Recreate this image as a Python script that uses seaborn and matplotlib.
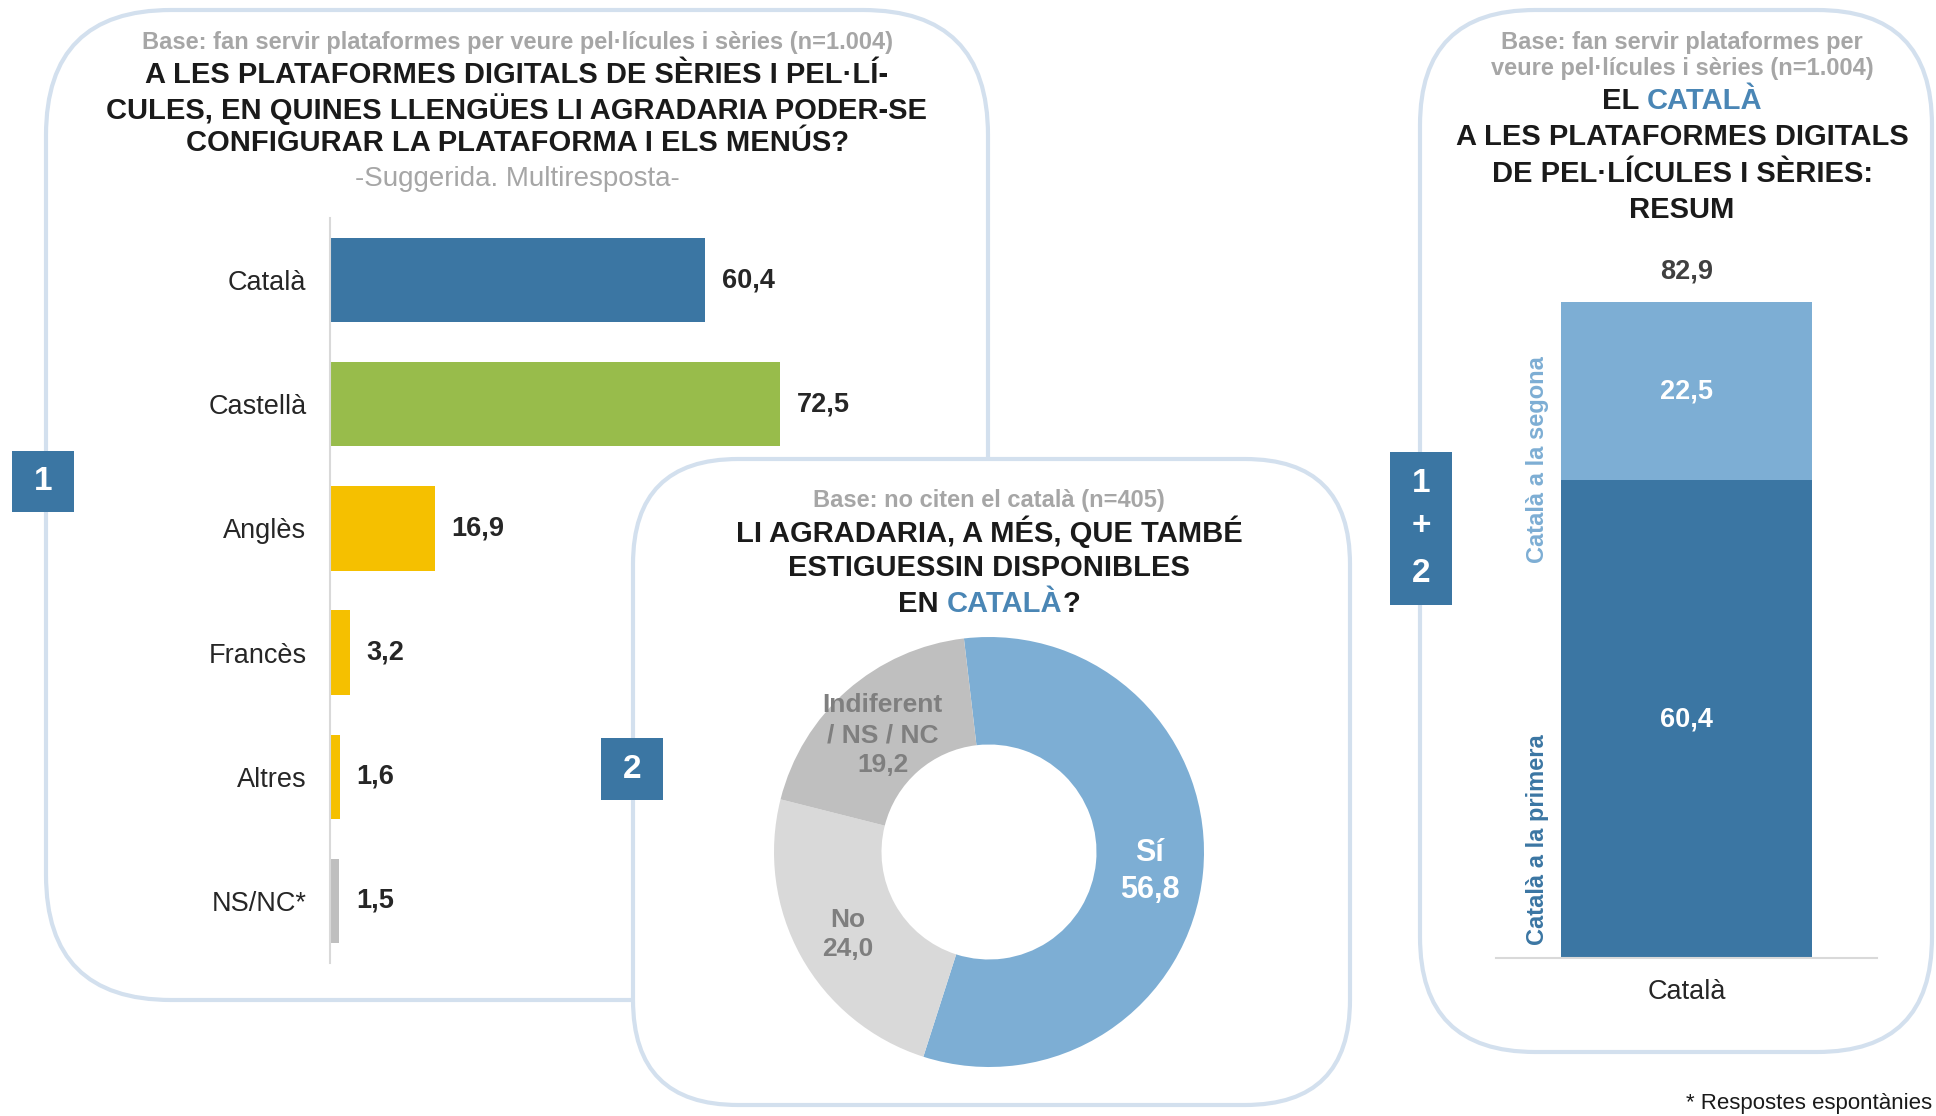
import matplotlib
matplotlib.use("Agg")
import matplotlib.pyplot as plt
import seaborn as sns
from matplotlib.patches import FancyBboxPatch, Rectangle
import numpy as np

# --- dades ---
llengues = ["Català", "Castellà", "Anglès", "Francès", "Altres", "NS/NC*"]
percentatges = [60.4, 72.5, 16.9, 3.2, 1.6, 1.5]
colors_llengues = ["#3B76A3", "#98BC4B", "#F5C000", "#F5C000", "#F5C000", "#BFBFBF"]

respostes = ["Sí", "No", "Indiferent\n/ NS / NC"]
respostes_pct = [56.8, 24.0, 19.2]
colors_respostes = ["#7DAED4", "#D9D9D9", "#BFBFBF"]
colors_etiq_resp = ["white", "#7F7F7F", "#7F7F7F"]

resum_cat = ["Català"]
primera = [60.4]
segona = [22.5]
total = [82.9]

base_1 = "Base: fan servir plataformes per veure pel·lícules i sèries (n=1.004)"
titol_1 = ["A LES PLATAFORMES DIGITALS DE SÈRIES I PEL·LÍ-",
           "CULES, EN QUINES LLENGÜES LI AGRADARIA PODER-SE",
           "CONFIGURAR LA PLATAFORMA I ELS MENÚS?"]
sub_1 = "-Suggerida. Multiresposta-"
base_2 = "Base: no citen el català (n=405)"
titol_2 = ["LI AGRADARIA, A MÉS, QUE TAMBÉ", "ESTIGUESSIN DISPONIBLES"]
base_3 = ["Base: fan servir plataformes per", "veure pel·lícules i sèries (n=1.004)"]
titol_3 = ["A LES PLATAFORMES DIGITALS", "DE PEL·LÍCULES I SÈRIES:", "RESUM"]
nota = "* Respostes espontànies"

DARK = "#3B76A3"
LIGHT = "#7DAED4"
CAT_BLUE = "#4A86B5"
GRAY = "#A6A6A6"
TXT = "#1A1A1A"
EDGE = "#D3E0EE"

sns.set_theme(style="white")
plt.rcParams['font.family'] = ['Liberation Sans', 'DejaVu Sans']

W, H = 1936, 1116
fig = plt.figure(figsize=(W / 100, H / 100), dpi=100)
fig.patch.set_facecolor("white")

bg = fig.add_axes([0, 0, 1, 1])
bg.set_xlim(0, W)
bg.set_ylim(H, 0)
bg.axis("off")


def px_axes(x0, y0, x1, y1):
    a = fig.add_axes([x0 / W, 1 - y1 / H, (x1 - x0) / W, (y1 - y0) / H])
    a.patch.set_alpha(0)
    return a


def caixa(x0, y0, x1, y1, r, z):
    p = FancyBboxPatch((x0, y0), x1 - x0, y1 - y0,
                       boxstyle=f"round,pad=0,rounding_size={r}",
                       facecolor="white", edgecolor=EDGE, linewidth=3, zorder=z)
    bg.add_patch(p)


def badge(x0, y0, x1, y1):
    bg.add_patch(Rectangle((x0, y0), x1 - x0, y1 - y0, facecolor=DARK,
                           edgecolor="none", zorder=10))


def linia_mixta(x, y, parts, size):
    full = "".join(p for p, _ in parts)
    ref = bg.text(x, y, full, ha="center", va="center", fontsize=size,
                  fontweight="bold", alpha=0, zorder=3)
    prev, xy = ref, (0, 0)
    for txt, col in parts:
        prev = bg.annotate(txt, xy=xy, xycoords=prev, ha="left", va="bottom",
                           fontsize=size, fontweight="bold", color=col, zorder=3)
        xy = (1, 0)


# caixes
caixa(46, 10, 988, 1000, 125, 1)
caixa(1420, 10, 1932, 1052, 115, 1)
caixa(633, 459, 1350, 1105, 105, 2)

# badges
badge(12, 451, 74, 512)
bg.text(43, 482, "1", ha="center", va="center", color="white", fontsize=24,
        fontweight="bold", zorder=11)
badge(601, 738, 663, 800)
bg.text(632, 770, "2", ha="center", va="center", color="white", fontsize=24,
        fontweight="bold", zorder=11)
badge(1390, 452, 1452, 605)
for yy, t in zip([484, 527, 574], ["1", "+", "2"]):
    bg.text(1421, yy, t, ha="center", va="center", color="white", fontsize=24,
            fontweight="bold", zorder=11)

# textos panell 1
bg.text(517, 42, base_1, ha="center", va="center", fontsize=17,
        fontweight="bold", color=GRAY)
for yy, t in zip([75, 109, 143], titol_1):
    bg.text(517, yy, t, ha="center", va="center", fontsize=21,
            fontweight="bold", color=TXT)
bg.text(517, 179, sub_1, ha="center", va="center", fontsize=20, color=GRAY)

# textos panell 2
bg.text(989, 500, base_2, ha="center", va="center", fontsize=17,
        fontweight="bold", color=GRAY, zorder=3)
for yy, t in zip([532, 568], titol_2):
    bg.text(989, yy, t, ha="center", va="center", fontsize=21,
            fontweight="bold", color=TXT, zorder=3)
linia_mixta(989, 604, [("EN ", TXT), ("CATALÀ", CAT_BLUE), ("?", TXT)], 21)

# textos panell 3
for yy, t in zip([42, 69], base_3):
    bg.text(1682, yy, t, ha="center", va="center", fontsize=17,
            fontweight="bold", color=GRAY)
linia_mixta(1682, 101, [("EL ", TXT), ("CATALÀ", CAT_BLUE)], 21)
for yy, t in zip([137, 174, 210], titol_3):
    bg.text(1682, yy, t, ha="center", va="center", fontsize=21,
            fontweight="bold", color=TXT)

bg.text(1686, 1104, nota, ha="left", va="center", fontsize=16, color=TXT)


def fmt(v):
    return f"{v:.1f}".replace(".", ",")


# --- grafic 1: barres horitzontals ---
ax1 = px_axes(330, 218, 827, 963)
sns.barplot(x=percentatges, y=llengues, hue=llengues, palette=colors_llengues,
            legend=False, orient="h", width=0.68, saturation=1, linewidth=0,
            ax=ax1)
ax1.set_xlim(0, 80)
ax1.set_ylim(5.5, -0.5)
for c in ax1.containers:
    ax1.bar_label(c, labels=[fmt(v) for v in c.datavalues], padding=12,
                  fontsize=19.5, fontweight="bold", color="#262626")
for s in ["top", "right", "bottom"]:
    ax1.spines[s].set_visible(False)
ax1.spines["left"].set_color("#D9D9D9")
ax1.spines["left"].set_linewidth(1.5)
ax1.set_xticks([])
ax1.tick_params(axis="y", length=0, pad=17, labelsize=19.5, labelcolor="#262626")
ax1.set_xlabel("")
ax1.set_ylabel("")

# --- grafic 2: donut ---
ax2 = px_axes(774, 637, 1204, 1067)
wedges, _ = ax2.pie(respostes_pct, colors=colors_respostes, startangle=96.7,
                    counterclock=False,
                    wedgeprops=dict(width=0.5, edgecolor="none"))
ax2.set_xlim(-1, 1)
ax2.set_ylim(-1, 1)
ax2.set_aspect("equal")
for w, nom, v, col in zip(wedges, respostes, respostes_pct, colors_etiq_resp):
    ang = np.deg2rad((w.theta1 + w.theta2) / 2)
    size = 22 if col == "white" else 19
    ax2.text(0.75 * np.cos(ang), 0.75 * np.sin(ang) - 0.02, f"{nom}\n{fmt(v)}",
             ha="center", va="center", color=col, fontsize=size,
             fontweight="bold", linespacing=1.3)

# --- grafic 3: barra apilada ---
ax3 = px_axes(1496, 246, 1877, 958)
sns.barplot(x=resum_cat, y=total, color=LIGHT, width=1.0, saturation=1,
            linewidth=0, ax=ax3)
sns.barplot(x=resum_cat, y=primera, color=DARK, width=1.0, saturation=1,
            linewidth=0, ax=ax3)
ax3.set_xlim(-0.76, 0.76)
ax3.set_ylim(0, 90)
ax3.bar_label(ax3.containers[0], labels=[fmt(v) for v in total], padding=13,
              fontsize=19.5, fontweight="bold", color="#404040")
ax3.text(0, primera[0] + segona[0] / 2, fmt(segona[0]), ha="center", va="center",
         fontsize=19.5, fontweight="bold", color="white")
ax3.text(0, primera[0] / 2, fmt(primera[0]), ha="center", va="center",
         fontsize=19.5, fontweight="bold", color="white")
ax3.text(0.108, 0.70, "Català a la segona", transform=ax3.transAxes, rotation=90,
         ha="center", va="center", fontsize=17, fontweight="bold", color=LIGHT)
ax3.text(0.108, 0.166, "Català a la primera", transform=ax3.transAxes, rotation=90,
         ha="center", va="center", fontsize=17, fontweight="bold", color=DARK)
for s in ["top", "right", "left"]:
    ax3.spines[s].set_visible(False)
ax3.spines["bottom"].set_color("#D9D9D9")
ax3.spines["bottom"].set_linewidth(1.5)
ax3.set_yticks([])
ax3.tick_params(axis="x", length=0, pad=15, labelsize=19.5, labelcolor="#262626")
ax3.set_xlabel("")
ax3.set_ylabel("")

fig.savefig("out.png", dpi=100)
